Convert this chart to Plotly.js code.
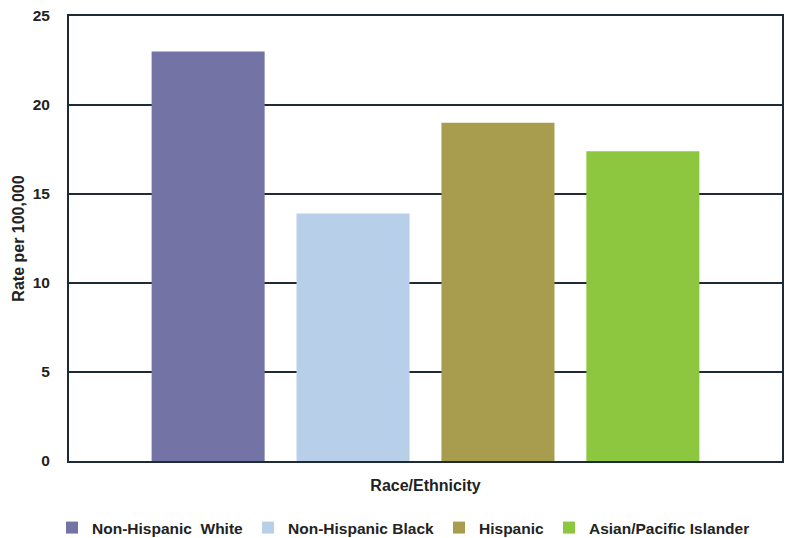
<!DOCTYPE html>
<html>
<head>
<meta charset="utf-8">
<script src="https://cdn.plot.ly/plotly-3.0.1.min.js"></script>
<style>html,body{margin:0;padding:0;background:#fff;}#chart{width:795px;height:538px;}</style>
</head>
<body>
<div id="chart"></div>
<script>
const seriesNames = ["Non-Hispanic  White", "Non-Hispanic Black", "Hispanic", "Asian/Pacific Islander"];
const seriesValues = [23.0, 13.9, 19.0, 17.4];
const seriesColors = ["#7373a6", "#b8cfe9", "#a89d4e", "#8dc63f"];
const yTickVals = [0, 5, 10, 15, 20, 25];

const traces = seriesNames.map((name, i) => ({
  type: "bar",
  name: name,
  x: [0],
  y: [seriesValues[i]],
  marker: {color: seriesColors[i]},
  hoverinfo: "name+y"
}));

const layout = {
  width: 795, height: 538,
  margin: {l: 69, r: 13, t: 16, b: 77, autoexpand: false},
  paper_bgcolor: "#fff", plot_bgcolor: "#fff",
  font: {family: "Liberation Sans, Arial, sans-serif", color: "#222"},
  barmode: "group",
  bargap: 0.187,
  bargroupgap: 0.22,
  showlegend: true,
  legend: {
    orientation: "h", x: 52 / 795, xref: "container", xanchor: "left",
    y: 10 / 538, yref: "container", yanchor: "middle",
    font: {size: 15.5, family: "Liberation Sans, Arial, sans-serif", color: "#222", weight: "bold"},
    traceorder: "normal", itemgap: 42
  },
  xaxis: {
    range: [-0.5, 0.5], showticklabels: false, ticks: "", showgrid: false, zeroline: false,
    showline: true, linecolor: "#1e2b36", linewidth: 2, mirror: true, fixedrange: true,
    title: {text: "<b>Race/Ethnicity</b>", font: {size: 16, color: "#222"}, standoff: 18}
  },
  yaxis: {
    range: [0, 25], tickvals: yTickVals, ticktext: yTickVals.map(v => "<b>" + v + "</b>"),
    tickfont: {size: 15.5, color: "#222"}, ticks: "", ticklabelstandoff: 14,
    showgrid: true, gridcolor: "#1e2b36", gridwidth: 1.5, zeroline: false,
    showline: true, linecolor: "#1e2b36", linewidth: 2, mirror: true,
    title: {text: "<b>Rate per 100,000</b>", font: {size: 16, color: "#222"}, standoff: 4}
  }
};

Plotly.newPlot("chart", traces, layout, {displayModeBar: false, staticPlot: true});
</script>
</body>
</html>
